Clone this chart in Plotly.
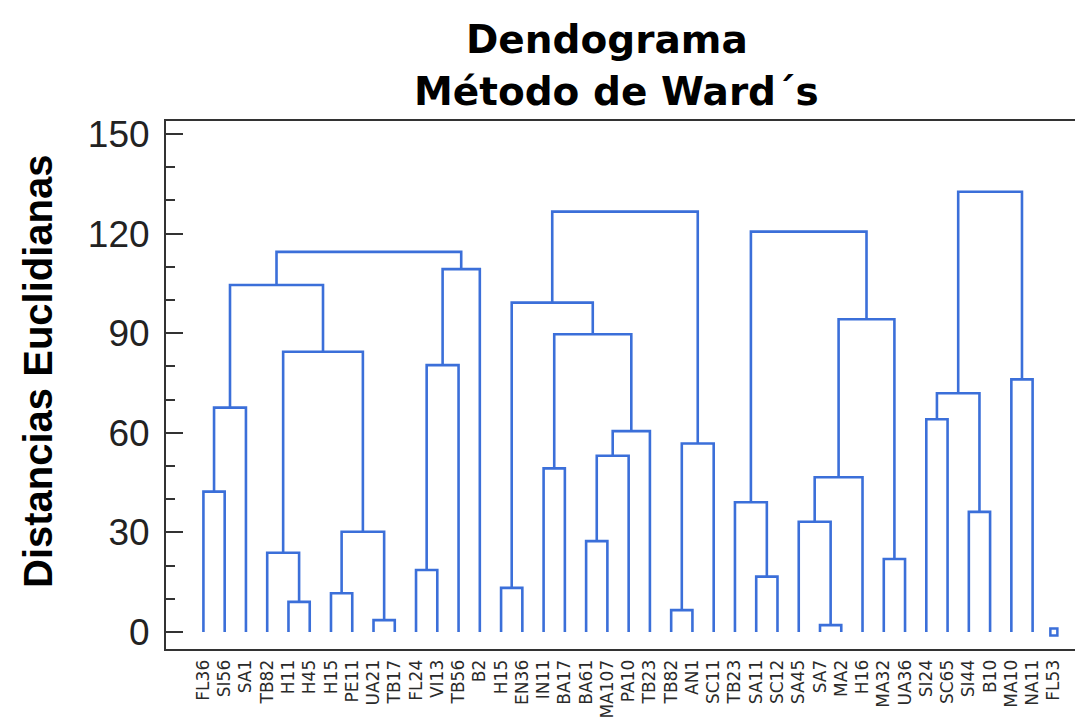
import plotly.graph_objects as go

# Leaf labels (left to right)
labels = ["FL36", "SI56", "SA1", "TB82", "H11", "H45", "H15", "PE11", "UA21", "TB17",
          "FL24", "VI13", "TB56", "B2", "H15", "EN36", "IN11", "BA17", "BA61", "MA107",
          "PA10", "TB23", "TB82", "AN1", "SC11", "TB23", "SA11", "SC12", "SA45", "SA7",
          "MA2", "H16", "MA32", "UA36", "SI24", "SC65", "SI44", "B10", "MA10", "NA11", "FL53"]

# Merges: node ids 0..40 are leaves, each merge creates a new node id 41, 42, ...
merge_left = [4, 3, 6, 8, 43, 42, 0, 47, 48, 10, 50, 51, 49,
              14, 16, 18, 56, 57, 55, 54, 22, 61, 60,
              26, 25, 29, 28, 67, 32, 68, 65, 34, 36, 72, 38, 74]
merge_right = [5, 41, 7, 9, 44, 45, 1, 2, 46, 11, 12, 13, 52,
               15, 17, 19, 20, 21, 58, 59, 23, 24, 62,
               27, 64, 30, 66, 31, 33, 69, 70, 35, 37, 73, 39, 75]
merge_height = [9.1, 23.9, 11.7, 3.6, 30.2, 84.4, 42.3, 67.6, 104.5, 18.7, 80.4, 109.3, 114.5,
                13.3, 49.3, 27.4, 53.1, 60.5, 89.7, 99.2, 6.6, 56.8, 126.6,
                16.7, 39.1, 2.1, 33.2, 46.6, 22.0, 94.2, 120.6, 64.1, 36.2, 71.9, 76.1, 132.6]

# Singleton shown as a marker
single_leaf = [40]

y_ticks = [0, 30, 60, 90, 120, 150]

n = len(labels)
pos = {i: float(i) for i in range(n)}
hgt = {i: 0.0 for i in range(n)}
xs, ys = [], []
for k, (a, b, h) in enumerate(zip(merge_left, merge_right, merge_height)):
    node = n + k
    xa, xb = pos[a], pos[b]
    xs += [xa, xa, xb, xb, None]
    ys += [hgt[a], h, h, hgt[b], None]
    pos[node] = (xa + xb) / 2
    hgt[node] = h

blue = "#3B6FD9"
axis_col = "#333333"

fig = go.Figure()
fig.add_trace(go.Scatter(x=xs, y=ys, mode="lines",
                         line=dict(color=blue, width=2.6), hoverinfo="skip",
                         showlegend=False))
fig.add_trace(go.Scatter(x=single_leaf, y=[0.0] * len(single_leaf), mode="markers",
                         marker=dict(symbol="square-open", size=7, color=blue,
                                     line=dict(color=blue, width=2.5)),
                         hoverinfo="skip", showlegend=False))
fig.add_trace(go.Scatter(x=[0], y=[0], mode="markers", marker=dict(opacity=0),
                         yaxis="y2", hoverinfo="skip", showlegend=False))

yr = [-5.1, 153.9]
fig.update_layout(
    width=1075, height=715,
    margin=dict(l=158, r=0, t=113, b=74),
    paper_bgcolor="white", plot_bgcolor="white",
    xaxis=dict(range=[-1.76, 41.37], tickmode="array",
               tickvals=list(range(n)), ticktext=labels, tickangle=-90,
               tickfont=dict(family="DejaVu Sans", size=17, color="#2a2a2a"),
               showline=True, linecolor=axis_col, linewidth=2, mirror=True,
               ticks="", showgrid=False, zeroline=False, ticklabelstandoff=2),
    yaxis=dict(range=yr, tickmode="array", tickvals=y_ticks,
               ticks="inside", ticklen=17, tickwidth=2, tickcolor=axis_col,
               minor=dict(tickmode="linear", tick0=0, dtick=10, ticks="inside",
                          ticklen=9, tickwidth=1.5, tickcolor=axis_col),
               tickfont=dict(family="Liberation Sans Narrow, Liberation Sans", size=37,
                             color="#222222"),
               showline=True, linecolor=axis_col, linewidth=2,
               showgrid=False, zeroline=False, ticklabelstandoff=7),
    yaxis2=dict(range=yr, overlaying="y", side="right", anchor="x",
                tickmode="array", tickvals=y_ticks,
                ticks="inside", ticklen=8, tickwidth=1.5, tickcolor=axis_col,
                minor=dict(tickmode="linear", tick0=0, dtick=10, ticks="inside",
                           ticklen=3, tickwidth=1.5, tickcolor=axis_col),
                showticklabels=False, showline=False, showgrid=False, zeroline=False),
    annotations=[
        dict(text="<b>Dendograma</b>", xref="paper", yref="paper", x=0.481, y=1.155,
             xanchor="center", yanchor="middle", showarrow=False,
             font=dict(family="DejaVu Sans", size=39, color="black")),
        dict(text="<b>Método de Ward´s</b>", xref="paper", yref="paper", x=0.491, y=1.0565,
             xanchor="center", yanchor="middle", showarrow=False,
             font=dict(family="DejaVu Sans", size=39, color="black")),
        dict(text="<b>Distancias Euclidianas</b>", xref="paper", yref="paper",
             x=-0.1396, y=0.5265, xanchor="center", yanchor="middle", textangle=-90,
             showarrow=False,
             font=dict(family="Liberation Sans", size=40, color="black")),
    ],
)

fig.write_html("out.html")
